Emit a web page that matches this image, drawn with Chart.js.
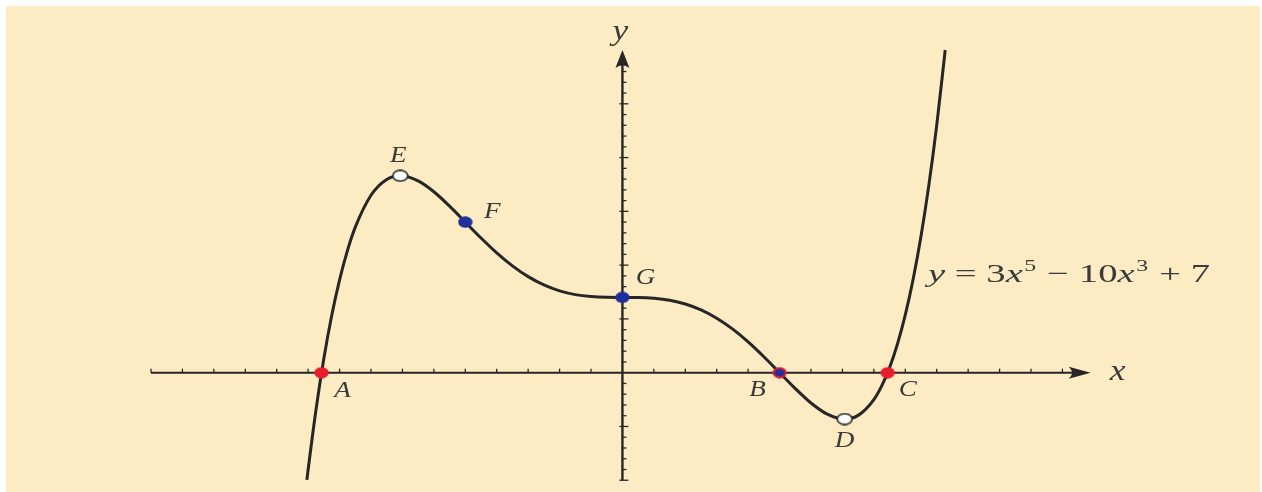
<!DOCTYPE html>
<html>
<head>
<meta charset="utf-8">
<script src="https://cdn.jsdelivr.net/npm/chart.js@4/dist/chart.umd.min.js"></script>
<style>
  html, body { margin: 0; padding: 0; background: #ffffff; }
  canvas { display: block; }
</style>
</head>
<body>
<canvas id="plot" width="1262" height="492"></canvas>
<script>
// Sampled points of y = 3x^5 - 10x^3 + 7
const curveX = [-2.008, -2.0, -1.95, -1.9, -1.85, -1.8, -1.75, -1.7, -1.6, -1.5, -1.414, -1.3, -1.2, -1.1, -1.0,
  -0.9, -0.8, -0.7, -0.6, -0.5, -0.4, -0.3, -0.2, -0.1, 0, 0.1, 0.2, 0.3, 0.4, 0.5, 0.6, 0.7, 0.8, 0.9, 1.0,
  1.1, 1.2, 1.3, 1.414, 1.5, 1.6, 1.65, 1.7, 1.75, 1.8, 1.85, 1.9, 1.95, 2.0, 2.05, 2.054];
const curveY = [-9.96, -9.0, -3.44, 1.31, 5.31, 8.63, 11.35, 13.53, 16.50, 17.97, 18.31, 17.83, 16.82, 15.48, 14.0,
  12.52, 11.14, 9.93, 8.93, 8.16, 7.61, 7.26, 7.08, 7.01, 7.0, 6.99, 6.92, 6.74, 6.39, 5.84, 5.07, 4.07, 2.86, 1.48, 0,
  -1.48, -2.82, -3.83, -4.31, -3.97, -2.50, -1.23, 0.47, 2.65, 5.37, 8.69, 12.69, 17.44, 23.0, 29.47, 30.0];

// Named points: roots (A, B, C), extrema (D, E), inflection points (F, G)
const markNames = ['A', 'B', 'C', 'D', 'E', 'F', 'G'];
const markX = [-1.915, 1.0, 1.688, 1.414, -1.414, -1.0, 0];
const markY = [0, 0, 0, -4.31, 18.31, 14.0, 7.0];
const markKinds = ['root', 'rootInflection', 'root', 'extremum', 'extremum', 'inflection', 'inflection'];

// Axis extents (data units)
const xAxisRange = [-3.0, 2.98];
const yAxisRange = [-10, 30];
const xTickStep = 0.2;
const yTickStep = 1;

const INK = '#262626';
const TEXT = '#3a3a3a';
const CREAM = '#fdebc3';
const RED = '#e61e2b';
const BLUE = '#1f2f9c';

function makeDot(w, h, fill, stroke, lw) {
  const c = document.createElement('canvas');
  c.width = w; c.height = h;
  const g = c.getContext('2d');
  g.beginPath();
  g.ellipse(w / 2, h / 2, w / 2 - lw / 2 - 0.3, h / 2 - lw / 2 - 0.3, 0, 0, Math.PI * 2);
  g.fillStyle = fill;
  g.fill();
  if (stroke) { g.lineWidth = lw; g.strokeStyle = stroke; g.stroke(); }
  return c;
}
const dotStyles = {
  root: makeDot(15, 12, RED, null, 0),
  inflection: makeDot(15, 12, BLUE, null, 0),
  rootInflection: makeDot(15, 12, BLUE, RED, 2),
  extremum: makeDot(17, 13, '#ffffff', '#2a2a2a', 1.6)
};

// label offsets from each named point, in pixels
const labelOffsets = { A: [21, 18], B: [-22, 17], C: [20, 17], D: [0, 22], E: [-2, -20], F: [27, -10], G: [23, -19] };

const backdrop = {
  id: 'backdrop',
  beforeDraw(chart) {
    const ctx = chart.ctx;
    ctx.save();
    ctx.fillStyle = '#ffffff';
    ctx.fillRect(0, 0, chart.width, chart.height);
    ctx.fillStyle = CREAM;
    ctx.fillRect(6, 6, chart.width - 8, chart.height - 6);
    ctx.restore();
  }
};

function arrowHead(ctx, tipX, tipY, dir, len, half) {
  // dir: 'right' or 'up'
  ctx.beginPath();
  if (dir === 'right') {
    ctx.moveTo(tipX, tipY);
    ctx.lineTo(tipX - len, tipY - half);
    ctx.quadraticCurveTo(tipX - len * 0.7, tipY, tipX - len, tipY + half);
  } else {
    ctx.moveTo(tipX, tipY);
    ctx.lineTo(tipX - half, tipY + len);
    ctx.quadraticCurveTo(tipX, tipY + len * 0.7, tipX + half, tipY + len);
  }
  ctx.closePath();
  ctx.fill();
}

const axesPlugin = {
  id: 'axesThroughOrigin',
  beforeDatasetsDraw(chart) {
    const ctx = chart.ctx;
    const xs = chart.scales.x, ys = chart.scales.y;
    const ox = xs.getPixelForValue(0), oy = ys.getPixelForValue(0);
    ctx.save();
    ctx.strokeStyle = INK;
    ctx.fillStyle = INK;

    // x axis
    const xl = xs.getPixelForValue(xAxisRange[0]);
    const xr = xs.getPixelForValue(xAxisRange[1]);
    ctx.lineWidth = 2;
    ctx.beginPath();
    ctx.moveTo(xl, oy); ctx.lineTo(xr - 12, oy); ctx.stroke();
    ctx.lineWidth = 1.3;
    for (let i = 0; ; i++) {
      const v = xAxisRange[0] + i * xTickStep;
      if (v > xAxisRange[1] - 0.15) break;
      if (Math.abs(v) < 1e-6) continue;
      const px = xs.getPixelForValue(v);
      ctx.beginPath(); ctx.moveTo(px, oy); ctx.lineTo(px, oy - 4); ctx.stroke();
    }
    arrowHead(ctx, xr, oy, 'right', 22, 6);

    // y axis
    const yb = ys.getPixelForValue(yAxisRange[0]);
    const yt = ys.getPixelForValue(yAxisRange[1]);
    ctx.lineWidth = 2.4;
    ctx.beginPath();
    ctx.moveTo(ox, yb); ctx.lineTo(ox, yt + 12); ctx.stroke();
    ctx.lineWidth = 1.3;
    for (let v = yAxisRange[0]; v < yAxisRange[1] - 1; v += yTickStep) {
      if (v === 0) continue;
      const py = ys.getPixelForValue(v);
      const major = v % 5 === 0;
      ctx.beginPath();
      ctx.moveTo(major ? ox - 3 : ox, py);
      ctx.lineTo(ox + (major ? 6 : 4), py);
      ctx.stroke();
    }
    arrowHead(ctx, ox, yt, 'up', 18, 7);
    ctx.restore();
  }
};

function italicText(ctx, txt, x, y, size) {
  ctx.save();
  ctx.translate(x, y);
  ctx.scale(1.18, 1);
  ctx.font = 'italic ' + size + 'px "Liberation Serif", "DejaVu Serif", serif';
  ctx.textAlign = 'center';
  ctx.textBaseline = 'middle';
  ctx.fillText(txt, 0, 0);
  ctx.restore();
}

const labelsPlugin = {
  id: 'labels',
  afterDatasetsDraw(chart) {
    const ctx = chart.ctx;
    const xs = chart.scales.x, ys = chart.scales.y;
    ctx.save();
    ctx.fillStyle = TEXT;
    markNames.forEach((name, i) => {
      const off = labelOffsets[name];
      italicText(ctx, name, xs.getPixelForValue(markX[i]) + off[0], ys.getPixelForValue(markY[i]) + off[1], 23);
    });
    // axis names
    italicText(ctx, 'x', xs.getPixelForValue(xAxisRange[1]) + 27, ys.getPixelForValue(0) - 1, 30);
    italicText(ctx, 'y', xs.getPixelForValue(0) - 2, ys.getPixelForValue(yAxisRange[1]) - 18, 30);

    // equation label
    const parts = [
      { t: 'y', it: true }, { t: ' = 3' }, { t: 'x', it: true }, { t: '5', sup: true },
      { t: ' \u2212 10' }, { t: 'x', it: true }, { t: '3', sup: true }, { t: ' + 7' }
    ];
    const size = 26;
    const fontFor = p => (p.it ? 'italic ' : '') + (p.sup ? Math.round(size * 0.62) : size) + 'px "Liberation Serif", "DejaVu Serif", serif';
    let total = 0;
    parts.forEach(p => { ctx.font = fontFor(p); p.w = ctx.measureText(p.t).width + (p.sup ? 2 : 0); total += p.w; });
    const left = 928, right = 1210, base = 282;
    const sx = (right - left) / total;
    ctx.translate(left, base);
    ctx.scale(sx, 1);
    ctx.textBaseline = 'alphabetic';
    ctx.textAlign = 'left';
    let cx = 0;
    parts.forEach(p => {
      ctx.font = fontFor(p);
      ctx.fillText(p.t, cx + (p.sup ? 1 : 0), p.sup ? -size * 0.42 : 0);
      cx += p.w;
    });
    ctx.restore();
  }
};

const curvePoints = curveX.map((x, i) => ({ x, y: curveY[i] }));
const markPoints = markX.map((x, i) => ({ x, y: markY[i] }));

new Chart(document.getElementById('plot'), {
  type: 'scatter',
  data: {
    datasets: [
      {
        label: 'marks',
        data: markPoints,
        order: 0,
        showLine: false,
        pointStyle: markKinds.map(k => dotStyles[k]),
        pointRadius: 7,
        clip: false
      },
      {
        label: 'curve',
        data: curvePoints,
        order: 1,
        showLine: true,
        borderColor: INK,
        borderWidth: 3,
        pointRadius: 0,
        cubicInterpolationMode: 'monotone',
        borderCapStyle: 'butt',
        clip: false
      }
    ]
  },
  options: {
    responsive: false,
    animation: false,
    events: [],
    layout: { autoPadding: false, padding: { left: 151, right: 11, top: 7, bottom: 1 } },
    plugins: { legend: { display: false }, tooltip: { enabled: false } },
    scales: {
      x: { type: 'linear', min: -3, max: 4, display: false },
      y: { type: 'linear', min: -11, max: 34, display: false }
    }
  },
  plugins: [backdrop, axesPlugin, labelsPlugin]
});
</script>
</body>
</html>
